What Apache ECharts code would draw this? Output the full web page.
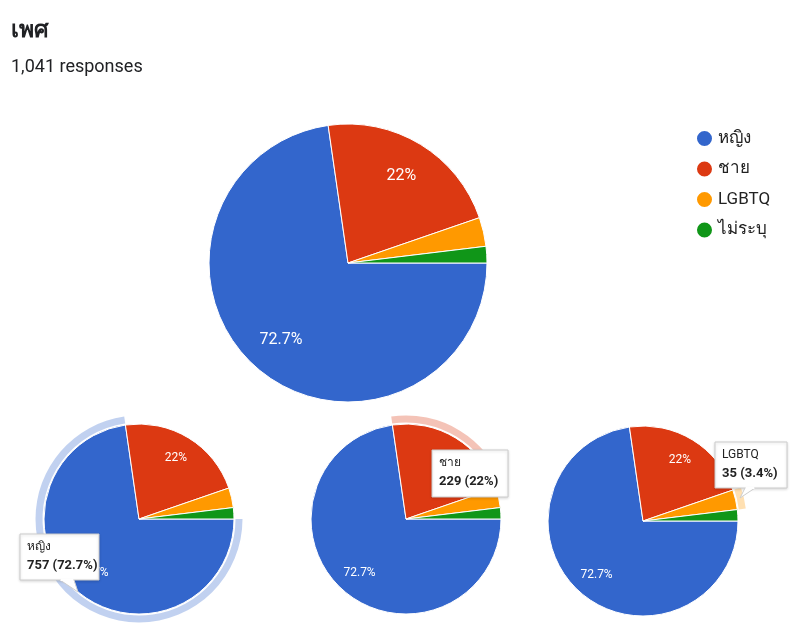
<!DOCTYPE html>
<html>
<head>
<meta charset="utf-8">
<script src="https://cdn.jsdelivr.net/npm/echarts@6/dist/echarts.min.js"></script>
<style>
html,body{margin:0;padding:0;background:#fff;}
#main{width:800px;height:641px;}
</style>
</head>
<body>
<div id="main"></div>
<script>
// ---- data ----
var categories = ['หญิง', 'ชาย', 'LGBTQ', 'ไม่ระบุ'];
var counts = [757, 229, 35, 20];
var colors = ['#3366cc', '#dc3912', '#ff9900', '#109618'];
var haloColors = ['rgba(51,102,204,0.3)', 'rgba(220,57,18,0.3)', 'rgba(255,153,0,0.3)', 'rgba(16,150,24,0.3)'];
var titleText = 'เพศ';
var highlighted = [0, 1, 2]; // hovered slice in each small pie

var total = counts.reduce(function (a, b) { return a + b; }, 0);
function pctStr(v) { return (Math.round(v / total * 1000) / 10) + '%'; }

var FONT = 'Roboto, "Liberation Sans", "Noto Sans", sans-serif';

function mainData() {
  return categories.map(function (c, i) {
    return { name: c, value: counts[i], itemStyle: { color: colors[i] } };
  });
}
function haloData(h) {
  return categories.map(function (c, i) {
    return { name: c, value: counts[i], itemStyle: { color: i === h ? haloColors[i] : 'rgba(0,0,0,0)' } };
  });
}
function labelData() {
  return categories.map(function (c, i) {
    return { name: c, value: counts[i], itemStyle: { color: 'rgba(0,0,0,0)' } };
  });
}

var pies = [
  { center: [348, 263], r: 139, font: 16, halo: null },
  { center: [139, 519], r: 95, font: 12, halo: highlighted[0] },
  { center: [406, 519], r: 95, font: 12, halo: highlighted[1] },
  { center: [643, 521], r: 95, font: 12, halo: highlighted[2] }
];

var series = [];
pies.forEach(function (p) {
  series.push({
    type: 'pie', center: p.center, radius: [0, p.r],
    startAngle: 0, clockwise: true, silent: true, animation: false,
    label: { show: false }, labelLine: { show: false },
    itemStyle: { borderColor: '#fff', borderWidth: 1 },
    data: mainData()
  });
});
pies.forEach(function (p) {
  if (p.halo === null) return;
  series.push({
    type: 'pie', center: p.center, radius: [p.r + 1.5, p.r + 8.5],
    startAngle: 0, clockwise: true, silent: true, animation: false,
    label: { show: false }, labelLine: { show: false },
    itemStyle: { borderWidth: 0 },
    data: haloData(p.halo)
  });
});
pies.forEach(function (p) {
  series.push({
    type: 'pie', center: p.center, radius: [0, p.r * 1.43],
    startAngle: 0, clockwise: true, silent: true, animation: false,
    avoidLabelOverlap: false,
    labelLine: { show: false },
    label: {
      show: true, position: 'inside', color: '#fff',
      fontFamily: FONT, fontSize: p.font,
      formatter: function (d) { return d.percent >= 5 ? pctStr(d.value) : ''; }
    },
    itemStyle: { borderWidth: 0 },
    data: labelData()
  });
});

function tip(x, y, w, h, idx, tail) {
  var children = [];
  children.push({
    type: 'rect', z: 100, zlevel: 1, shape: { x: x, y: y, width: w, height: h },
    style: { fill: '#fff', stroke: '#cccccc', lineWidth: 1, shadowBlur: 3, shadowColor: 'rgba(0,0,0,0.15)', shadowOffsetY: 1 }
  });
  if (tail) {
    children.push({
      type: 'polygon', z: 101, zlevel: 1, shape: { points: tail },
      style: { fill: '#fff', stroke: '#cccccc', lineWidth: 1 }
    });
    children.push({
      type: 'line', z: 102, zlevel: 1, shape: { x1: tail[0][0] + 0.5, y1: tail[0][1], x2: tail[2][0] - 0.5, y2: tail[2][1] },
      style: { stroke: '#fff', lineWidth: 2 }
    });
  }
  children.push({
    type: 'text', z: 103, zlevel: 1, x: x + 7, y: y + 7,
    style: { text: categories[idx], fontFamily: FONT, fontSize: 12, fill: '#222', textVerticalAlign: 'top' }
  });
  children.push({
    type: 'text', z: 103, zlevel: 1, x: x + 7, y: y + 25,
    style: { text: counts[idx] + ' (' + pctStr(counts[idx]) + ')', fontFamily: FONT, fontSize: 13, fontWeight: 'bold', fill: '#222', textVerticalAlign: 'top' }
  });
  return children;
}

var graphics = [].concat(
  tip(20, 534, 79, 46, 0, [[60, 580], [78, 592], [74, 580]]),
  tip(432, 450, 76, 47, 1, null),
  tip(715, 442, 72, 46, 2, [[745, 488], [740, 498], [755, 488]])
);

var option = {
  backgroundColor: '#fff',
  animation: false,
  title: [
    { text: titleText, left: 6, top: 15, textStyle: { fontFamily: FONT, fontSize: 23, fontWeight: 'bold', color: '#202124' } },
    { text: total.toLocaleString('en-US') + ' responses', left: 6, top: 53, textStyle: { fontFamily: FONT, fontSize: 18, fontWeight: 'normal', color: '#202124' } }
  ],
  legend: {
    orient: 'vertical', left: 690, top: 124,
    icon: 'circle', itemWidth: 17, itemHeight: 17, itemGap: 11.5,
    selectedMode: false,
    textStyle: { fontFamily: FONT, fontSize: 17, color: '#222' },
    data: categories
  },
  series: series,
  graphic: graphics
};

var chart = echarts.init(document.getElementById('main'), null, { renderer: 'canvas' });
chart.setOption(option);
</script>
</body>
</html>
